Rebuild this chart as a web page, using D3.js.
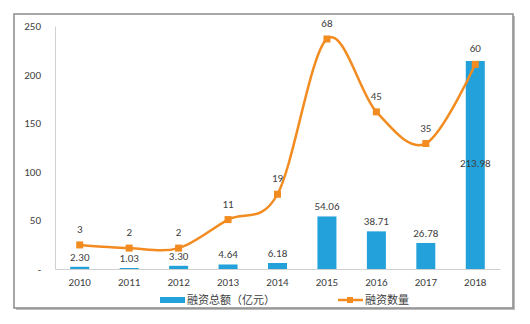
<!DOCTYPE html>
<html><head><meta charset="utf-8">
<script src="https://cdn.jsdelivr.net/npm/d3@7"></script>
<style>body{margin:0;background:#fff}svg{display:block}</style>
</head><body>
<svg id="c" width="530" height="324"></svg>
<script>
const years = ["2010","2011","2012","2013","2014","2015","2016","2017","2018"];
const amounts = [2.30,1.03,3.30,4.64,6.18,54.06,38.71,26.78,213.98];
const counts = [3,2,2,11,19,68,45,35,60];
const yTicks = [0,50,100,150,200,250];
const seriesNames = ["融资总额（亿元）","融资数量"];

(function(){
const svg = d3.select("#c");
const font = "Calibri, 'Open Sans', 'Liberation Sans', sans-serif";
const cjk = "'Noto Sans CJK SC', sans-serif";
const blue = "#22a1db", orange = "#f28b20", txt = "#404040";

// frame with shadow
svg.append("rect").attr("x",16).attr("y",16).attr("width",499).attr("height",294).attr("fill","#bdbdbd");
svg.append("rect").attr("x",14).attr("y",14).attr("width",499).attr("height",294)
  .attr("fill","#fff").attr("stroke","#8a8a8a").attr("stroke-width",1.5);

const mLeft = 55, mRight = 500, mTop = 26, mBottom = 269;
const x = d3.scaleBand().domain(years).range([mLeft,mRight]);
const y = d3.scaleLinear().domain([0,250]).range([mBottom,mTop]);
const y2 = d3.scaleLinear().domain([-4.6,72.1]).range([mBottom,mTop]);

// y axis
const ya = svg.append("g").attr("transform",`translate(${mLeft},0)`)
  .call(d3.axisLeft(y).tickValues(yTicks).tickSize(0).tickPadding(14)
    .tickFormat(d=> d===0 ? "-" : d));
ya.select(".domain").attr("stroke","#d0d0d0");
ya.selectAll("text").attr("font-family",font).attr("font-size",11).attr("fill",txt);

// x axis
const xa = svg.append("g").attr("transform",`translate(0,${mBottom})`)
  .call(d3.axisBottom(x).tickSize(0).tickPadding(9));
xa.select(".domain").attr("stroke","#d0d0d0");
xa.selectAll("text").attr("font-family",font).attr("font-size",11).attr("fill",txt);

// bars
const bw = 19;
svg.append("g").selectAll("rect").data(amounts).join("rect")
  .attr("x",(d,i)=>x(years[i])+x.bandwidth()/2-bw/2)
  .attr("y",d=>y(d)).attr("width",bw).attr("height",d=>mBottom-y(d))
  .attr("fill",blue);

svg.append("g").selectAll("text").data(amounts).join("text")
  .attr("x",(d,i)=>x(years[i])+x.bandwidth()/2)
  .attr("y",(d,i)=> i===8 ? y(105) : y(d)-6)
  .attr("text-anchor","middle").attr("font-family",font).attr("font-size",11).attr("fill",txt)
  .text(d=>d.toFixed(2));

// line
const pts = counts.map((c,i)=>[x(years[i])+x.bandwidth()/2, y2(c)]);
svg.append("path").attr("d",d3.line().curve(d3.curveCardinal.tension(0))(pts))
  .attr("fill","none").attr("stroke",orange).attr("stroke-width",2.5);
svg.append("g").selectAll("rect").data(pts).join("rect")
  .attr("x",d=>d[0]-3.5).attr("y",d=>d[1]-3.5).attr("width",7).attr("height",7).attr("fill",orange);
svg.append("g").selectAll("text").data(counts).join("text")
  .attr("x",(d,i)=>pts[i][0]).attr("y",(d,i)=>pts[i][1]-12)
  .attr("text-anchor","middle").attr("font-family",font).attr("font-size",11).attr("fill",txt)
  .text(d=>d);

// legend
const lg = svg.append("g");
lg.append("rect").attr("x",160).attr("y",297).attr("width",25).attr("height",6).attr("fill",blue);
lg.append("text").attr("x",187).attr("y",304).attr("font-family",cjk).attr("font-size",11).attr("fill",txt).text(seriesNames[0]);
lg.append("line").attr("x1",338).attr("x2",363).attr("y1",300).attr("y2",300).attr("stroke",orange).attr("stroke-width",2.5);
lg.append("rect").attr("x",347).attr("y",297).attr("width",6).attr("height",6).attr("fill",orange);
lg.append("text").attr("x",365).attr("y",304).attr("font-family",cjk).attr("font-size",11).attr("fill",txt).text(seriesNames[1]);
})();
</script>
</body></html>
